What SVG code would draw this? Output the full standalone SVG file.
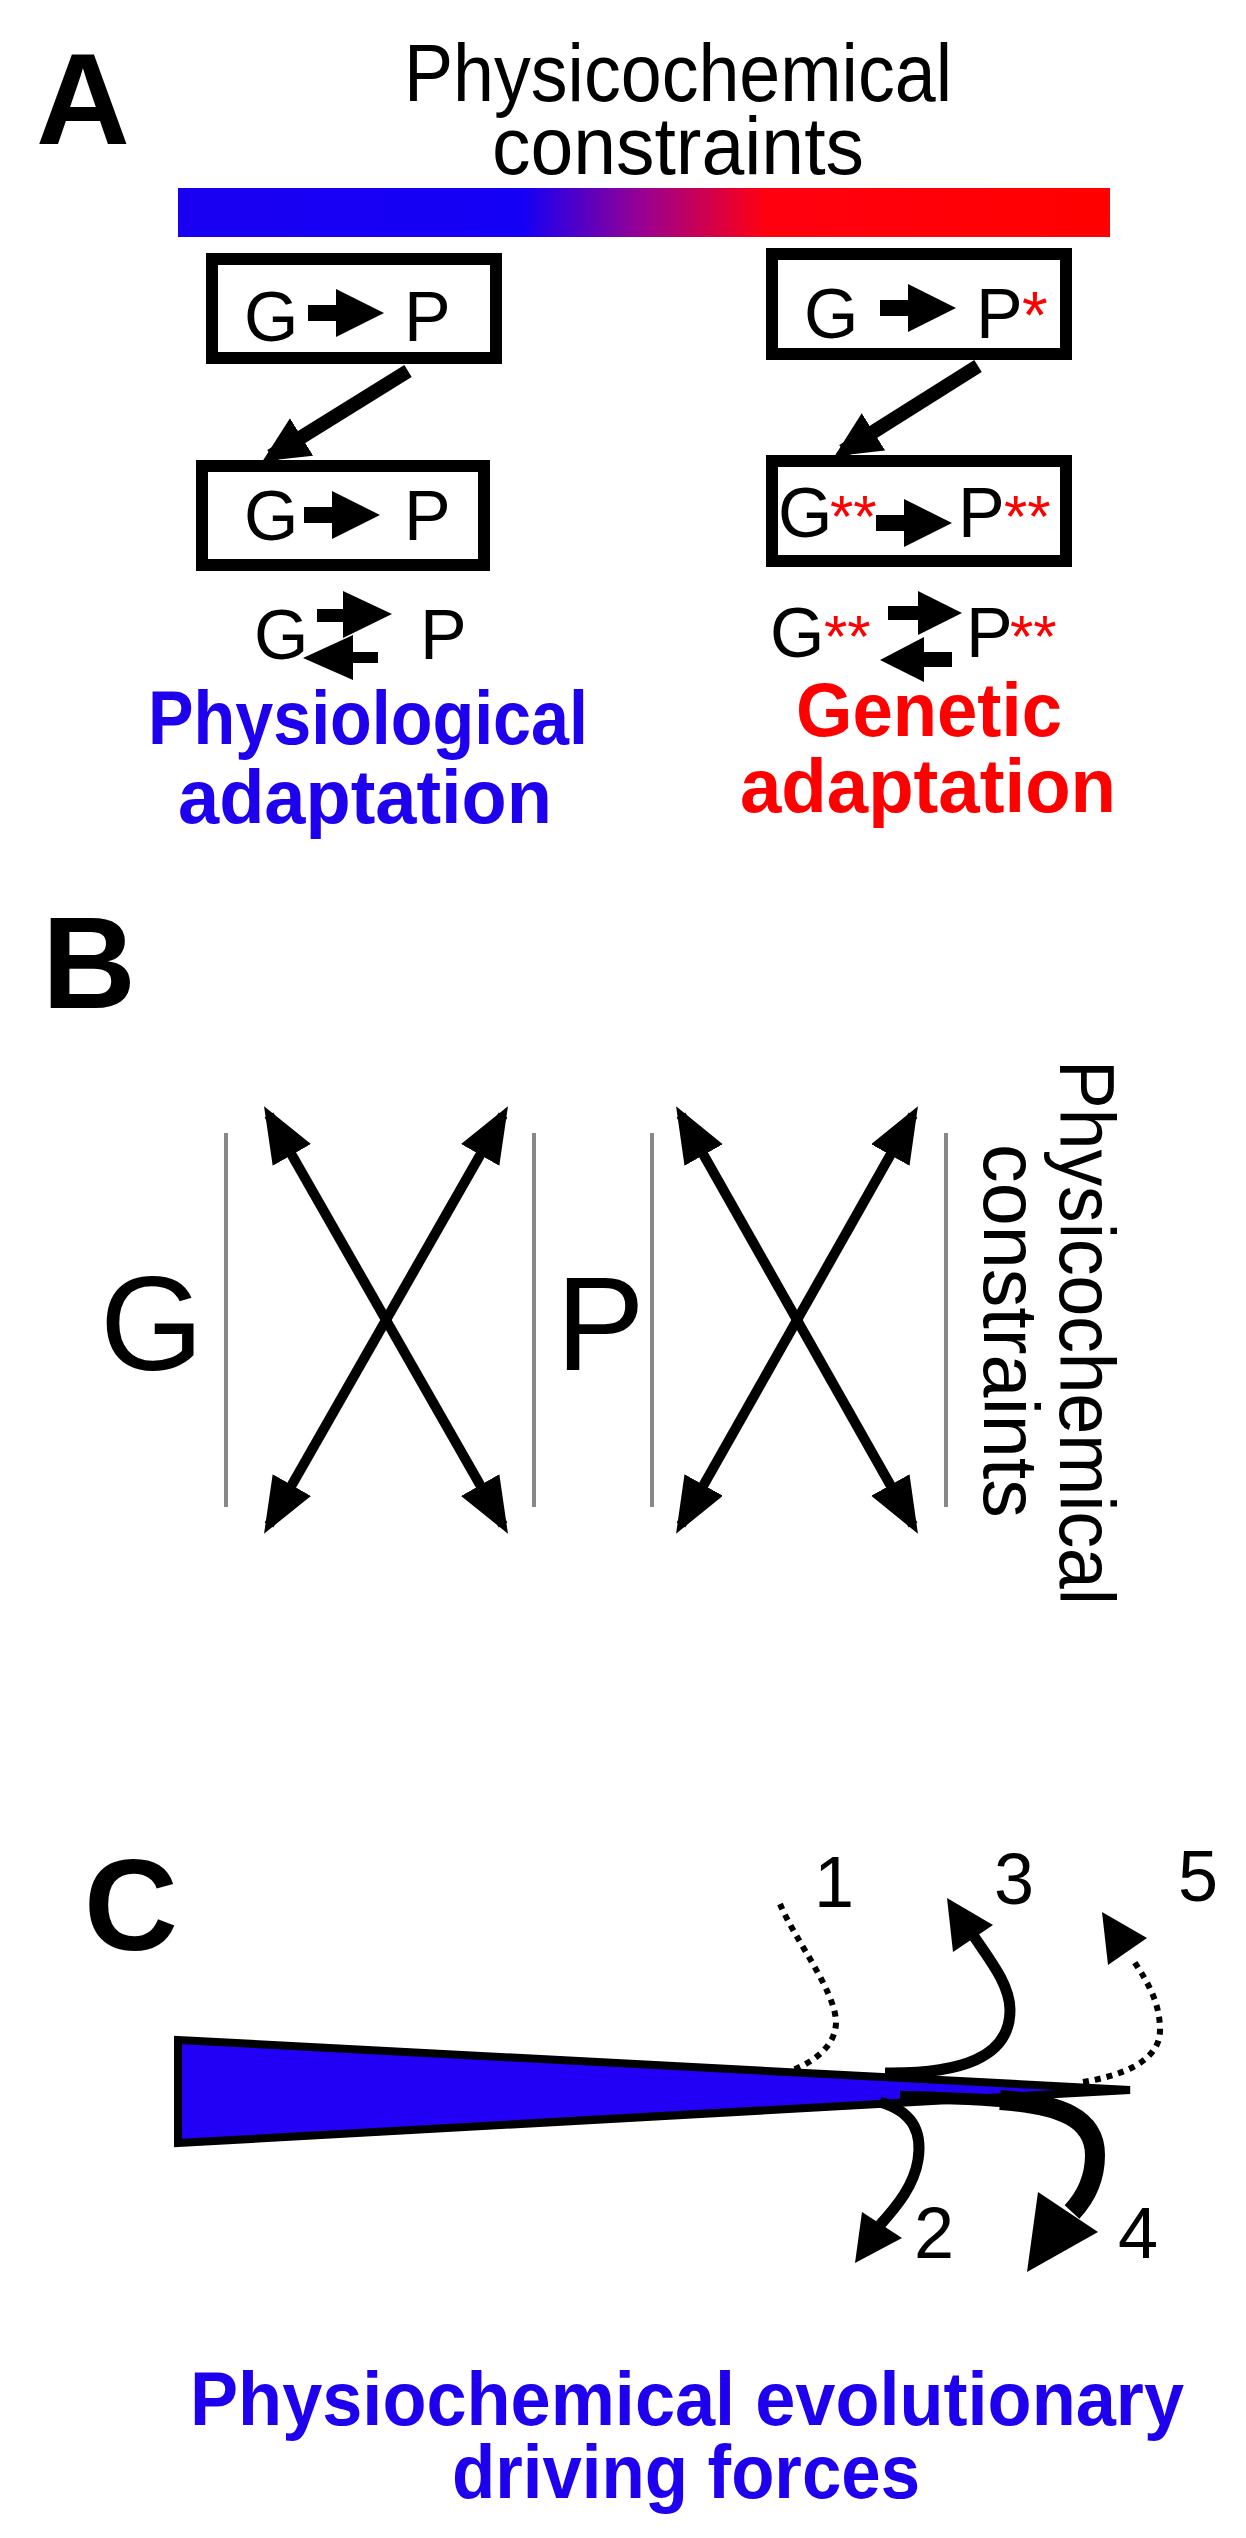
<svg xmlns="http://www.w3.org/2000/svg" width="1246" height="2538" viewBox="0 0 1246 2538">
<style>
.t{font-family:"Liberation Sans",Arial,sans-serif;fill:#000}
.b{font-weight:bold}
.box{fill:none;stroke:#000;stroke-width:12}
.ln{fill:none;stroke:#000}
.gray{stroke:#888;stroke-width:4}
.dot{fill:none;stroke:#000;stroke-width:6;stroke-dasharray:6 6}
</style>
<defs>
<linearGradient id="grad" x1="0" x2="1" y1="0" y2="0">
<stop offset="0" stop-color="#1a00f2"/><stop offset="0.37" stop-color="#1400f5"/>
<stop offset="0.5" stop-color="#9a0090"/><stop offset="0.63" stop-color="#ff0010"/><stop offset="1" stop-color="#ff0000"/>
</linearGradient>
<marker id="hA" markerUnits="userSpaceOnUse" markerWidth="50" markerHeight="50" refX="36" refY="22" orient="auto"><path d="M0,0 L46,22 L0,44 Z"/></marker>
<marker id="hB" markerUnits="userSpaceOnUse" markerWidth="60" markerHeight="50" refX="46" refY="22" orient="auto-start-reverse"><path d="M0,0 L56,22 L0,44 Z"/></marker>
<path id="sa" d="M0,-8 H28 V-24 L76,0 L28,24 V8 H0 Z"/>
</defs>

<g id="panelA">
<text class="t b" x="36" y="144" font-size="130">A</text>
<g id="title"><text class="t" x="678" y="101" font-size="82" text-anchor="middle" textLength="548" lengthAdjust="spacingAndGlyphs">Physicochemical</text>
<text class="t" x="678" y="174" font-size="82" text-anchor="middle" textLength="372" lengthAdjust="spacingAndGlyphs">constraints</text></g>
<rect id="bar" x="178" y="188" width="932" height="49" fill="url(#grad)"/>
<g id="boxTL"><rect class="box" x="212" y="259" width="284" height="99"/>
<text class="t" x="244" y="341" font-size="70">G</text><use href="#sa" x="308" y="313"/><text class="t" x="404" y="341" font-size="70">P</text></g>
<g id="boxTR"><rect class="box" x="772" y="254" width="294" height="100"/>
<text class="t" x="804" y="338" font-size="70">G</text><use href="#sa" x="880" y="308"/><text class="t" x="976" y="338" font-size="70">P</text><text class="t" x="1022" y="338" font-size="66" style="fill:#f00">*</text></g>
<g id="boxBL"><rect class="box" x="202" y="466" width="282" height="99"/>
<text class="t" x="244" y="540" font-size="70">G</text><use href="#sa" x="304" y="515"/><text class="t" x="404" y="540" font-size="70">P</text></g>
<g id="boxBR"><rect class="box" x="772" y="461" width="294" height="100"/>
<text class="t" x="778" y="537" font-size="70">G</text><text class="t" x="830" y="537" font-size="60" style="fill:#f00">**</text><use href="#sa" x="876" y="523"/><text class="t" x="958" y="537" font-size="70">P</text><text class="t" x="1004" y="537" font-size="60" style="fill:#f00">**</text></g>
<g id="eqL"><text class="t" x="254" y="659" font-size="70">G</text><text class="t" x="420" y="659" font-size="70">P</text>
<path d="M317,609 H343 V591 L392,614 L343,638 V622 H317 Z"/><path d="M378,652 H353 V635 L303,658 L353,680 V663 H378 Z"/></g>
<g id="eqR"><text class="t" x="770" y="657" font-size="70">G</text><text class="t" x="824" y="657" font-size="60" style="fill:#f00">**</text><text class="t" x="966" y="657" font-size="70">P</text><text class="t" x="1010" y="657" font-size="60" style="fill:#f00">**</text>
<path d="M888,606 H918 V591 L962,613 L918,635 V620 H888 Z"/><path d="M952,652 H924 V637 L880,660 L924,682 V667 H952 Z"/></g>
<text class="t b" x="368" y="744" font-size="76" text-anchor="middle" textLength="440" lengthAdjust="spacingAndGlyphs" style="fill:#1f00ee">Physiological</text>
<text class="t b" x="365" y="823" font-size="76" text-anchor="middle" textLength="374" lengthAdjust="spacingAndGlyphs" style="fill:#1f00ee">adaptation</text>
<text class="t b" x="929" y="736" font-size="76" text-anchor="middle" textLength="266" lengthAdjust="spacingAndGlyphs" style="fill:#f00">Genetic</text>
<text class="t b" x="928" y="812" font-size="76" text-anchor="middle" textLength="376" lengthAdjust="spacingAndGlyphs" style="fill:#f00">adaptation</text>
</g>

<g id="panelB">
<text class="t b" x="42" y="1008" font-size="130">B</text>
<text class="t" x="100" y="1370" font-size="133">G</text>
<text class="t" x="556" y="1370" font-size="133">P</text>
<line class="gray" x1="226" y1="1133" x2="226" y2="1507"/>
<line class="gray" x1="534" y1="1133" x2="534" y2="1507"/>
<line class="gray" x1="652" y1="1133" x2="652" y2="1507"/>
<line class="gray" x1="946" y1="1133" x2="946" y2="1507"/>
<text class="t" transform="translate(1060,1060) rotate(90)" font-size="78" textLength="545" lengthAdjust="spacingAndGlyphs">Physicochemical</text>
<text class="t" transform="translate(984,1144) rotate(90)" font-size="78" textLength="374" lengthAdjust="spacingAndGlyphs">constraints</text>
</g>

<g id="panelC">
<text class="t b" x="84" y="1950" font-size="130">C</text>
<polygon points="178,2040 1130,2090 178,2143" fill="#2200f5" stroke="#000" stroke-width="8" stroke-linejoin="miter"/>
<text class="t" x="814" y="1907" font-size="72">1</text>
<text class="t" x="994" y="1904" font-size="72">3</text>
<text class="t" x="1178" y="1901" font-size="72">5</text>
<text class="t" x="914" y="2258" font-size="72">2</text>
<text class="t" x="1118" y="2258" font-size="72">4</text>
<text class="t b" x="687" y="2425" font-size="76" text-anchor="middle" textLength="994" lengthAdjust="spacingAndGlyphs" style="fill:#1f00ee">Physiochemical evolutionary</text>
<text class="t b" x="686" y="2498" font-size="76" text-anchor="middle" textLength="468" lengthAdjust="spacingAndGlyphs" style="fill:#1f00ee">driving forces</text>
</g>

<g id="connectors">
<line class="ln" x1="408" y1="371" x2="271" y2="456" stroke-width="14" marker-end="url(#hA)"/>
<line class="ln" x1="978" y1="366" x2="843" y2="451" stroke-width="14" marker-end="url(#hA)"/>
<line class="ln" x1="269" y1="1115" x2="503" y2="1525" stroke-width="10" marker-start="url(#hB)" marker-end="url(#hB)"/>
<line class="ln" x1="503" y1="1115" x2="269" y2="1525" stroke-width="10" marker-start="url(#hB)" marker-end="url(#hB)"/>
<line class="ln" x1="681" y1="1115" x2="913" y2="1525" stroke-width="10" marker-start="url(#hB)" marker-end="url(#hB)"/>
<line class="ln" x1="913" y1="1115" x2="681" y2="1525" stroke-width="10" marker-start="url(#hB)" marker-end="url(#hB)"/>
<path class="dot" d="M780,1904 C795,1940 835,1990 836,2022 C836,2045 815,2062 790,2071"/>
<path class="ln" stroke-width="11" d="M885,2073 C960,2074 1010,2058 1010,2010 C1010,1985 990,1960 973,1935"/>
<polygon points="947,1898 993,1925 953,1952"/>
<path class="dot" d="M1083,2082 C1120,2076 1160,2062 1160,2030 C1160,2005 1150,1985 1133,1960"/>
<polygon points="1102,1912 1147,1938 1108,1965"/>
<path class="ln" stroke-width="11" d="M880,2102 C915,2112 922,2135 918,2160 C914,2185 898,2205 880,2225"/>
<polygon points="855,2263 862,2212 902,2238"/>
<path class="ln" stroke-width="12" d="M900,2097 C960,2098 1000,2100 1030,2104"/>
<path class="ln" stroke-width="20" d="M1000,2100 C1060,2104 1095,2118 1095,2155 C1095,2180 1085,2198 1072,2212"/>
<polygon points="1027,2272 1038,2192 1098,2232"/>
</g>
</svg>
